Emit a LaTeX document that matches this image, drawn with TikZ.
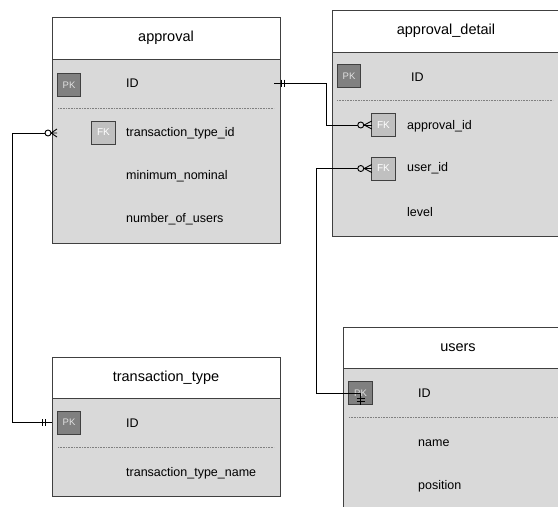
\documentclass[tikz,border=0pt]{standalone}
\usepackage{fontspec}
\setmainfont{Liberation Sans}
\usetikzlibrary{calc}
\definecolor{bodygray}{RGB}{217,217,217}
\definecolor{pkgray}{RGB}{128,128,128}
\definecolor{fkgray}{RGB}{192,192,192}
\definecolor{edgegray}{RGB}{64,64,64}
\definecolor{pktext}{RGB}{225,225,225}
\begin{document}
\begin{tikzpicture}[x=1pt,y=-1pt,
  tblbody/.style={draw=edgegray, fill=bodygray, line width=0.9pt, anchor=north west, inner sep=0pt, outer sep=0pt},
  tblhead/.style={draw=edgegray, fill=white, line width=0.9pt, anchor=north west, inner sep=0pt, outer sep=0pt, font=\fontsize{14.5}{16}\selectfont},
  keybox/.style={draw=edgegray, line width=0.8pt, minimum width=23.5pt, minimum height=23pt, inner sep=0pt, outer sep=0pt},
  pkbox/.style={keybox, fill=pkgray, text=pktext, font=\fontsize{9.5}{10}\selectfont},
  fkbox/.style={keybox, fill=fkgray, text=white, font=\fontsize{10}{10}\selectfont},
  field/.style={anchor=west, inner sep=0pt, font=\fontsize{12.5}{14}\selectfont},
  sepline/.style={draw=gray, line width=0.8pt, dash pattern=on 1pt off 0.6pt},
  conn/.style={draw=black, line width=0.9pt},
  ringmark/.style={draw=black, fill=bodygray, line width=0.9pt}
]
\useasboundingbox (0,0) rectangle (558,507);
\clip (0,0) rectangle (558,507);

% ---------- approval ----------
\node[tblbody, minimum width=228pt, minimum height=226pt] (approval) at (52,17) {};
\node[tblhead, minimum width=228pt, minimum height=42pt] (approvalH) at (52,17) {approval};
\node[pkbox] (apk) at (69,85) {PK};
\node[field] (aid) at (126,83) {ID};
\draw[sepline] (58,108) -- (274,108);
\node[fkbox] (afk) at (103.5,132.5) {FK};
\node[field] (atid) at (126,133) {transaction\_type\_id};
\node[field] (amin) at (126,176) {minimum\_nominal};
\node[field] (anum) at (126,219) {number\_of\_users};

% ---------- approval_detail ----------
\node[tblbody, minimum width=228pt, minimum height=226pt] (detail) at (332,10) {};
\node[tblhead, minimum width=228pt, minimum height=42pt] (detailH) at (332,10) {approval\_detail};
\node[pkbox] (dpk) at (349,76) {PK};
\node[field] (did) at (411,77) {ID};
\draw[sepline] (337,100) -- (553,100);
\node[fkbox] (dfk1) at (383.5,125) {FK};
\node[field] (dapp) at (407,126) {approval\_id};
\node[fkbox] (dfk2) at (383.5,168.5) {FK};
\node[field] (duser) at (407,168) {user\_id};
\node[field] (dlevel) at (407,212) {level};

% ---------- transaction_type ----------
\node[tblbody, minimum width=228pt, minimum height=139pt] (ttype) at (52,357) {};
\node[tblhead, minimum width=228pt, minimum height=41pt] (ttypeH) at (52,357) {transaction\_type};
\node[pkbox] (tpk) at (69,422.5) {PK};
\node[field] (tid) at (126,423) {ID};
\draw[sepline] (58,447) -- (274,447);
\node[field] (tname) at (126,473) {transaction\_type\_name};

% ---------- users ----------
\node[tblbody, minimum width=230pt, minimum height=200pt] (users) at (343,327) {};
\node[tblhead, minimum width=230pt, minimum height=41pt] (usersH) at (343,327) {users};
\node[pkbox] (upk) at (360.5,393) {PK};
\node[field] (uid) at (418,393) {ID};
\draw[sepline] (349,417) -- (565,417);
\node[field] (uname) at (418,443) {name};
\node[field] (upos) at (418,486) {position};

% ---------- connector: approval.ID -> approval_detail.approval_id ----------
\coordinate (c1a) at ($(approval.east |- aid)+(-6,0)$);
\draw[conn] (c1a) -- ++(52,0) |- (dfk1.west);
\draw[conn] ($(approval.east |- aid)+(1.5,-3.5)$) -- ++(0,7);
\draw[conn] ($(approval.east |- aid)+(4,-3.5)$) -- ++(0,7);
\draw[conn] ($(dfk1.west)+(-7.5,0)$) -- ($(dfk1.west)+(0,-4)$)
            ($(dfk1.west)+(-7.5,0)$) -- ($(dfk1.west)+(0,4)$);
\draw[ringmark] ($(dfk1.west)+(-11,0)$) circle (3);

% ---------- connector: approval_detail.user_id -> users.ID ----------
\draw[conn] (dfk2.west) -- ++(-55,0) |- (upk.center);
\draw[conn] (upk.center) -- ++(0,12);
\draw[conn] ($(upk.center)+(-4,5)$) -- ++(8,0);
\draw[conn] ($(upk.center)+(-4,8)$) -- ++(8,0);
\draw[conn] ($(dfk2.west)+(-7.5,0)$) -- ($(dfk2.west)+(0,-4)$)
            ($(dfk2.west)+(-7.5,0)$) -- ($(dfk2.west)+(0,4)$);
\draw[ringmark] ($(dfk2.west)+(-11,0)$) circle (3);

% ---------- connector: approval.transaction_type_id -> transaction_type.ID ----------
\coordinate (c3a) at (approval.west |- atid);
\draw[conn] (c3a) -- ++(-40,0) |- (ttype.west |- tpk);
\draw[conn] ($(c3a)+(-1,0)$) -- ($(c3a)+(5,-4)$)
            ($(c3a)+(-1,0)$) -- ($(c3a)+(5,4)$)
            ($(c3a)+(-1,0)$) -- ($(c3a)+(5,0)$);
\draw[ringmark, fill=white] ($(c3a)+(-4,0)$) circle (3);
\draw[conn] ($(ttype.west |- tpk)+(-10,-3.5)$) -- ++(0,7);
\draw[conn] ($(ttype.west |- tpk)+(-7,-3.5)$) -- ++(0,7);
\end{tikzpicture}
\end{document}
